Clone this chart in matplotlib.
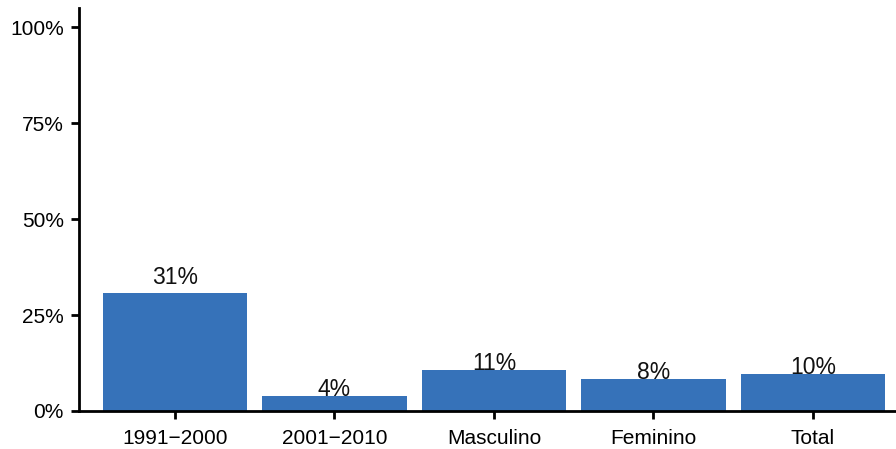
import matplotlib
matplotlib.use("Agg")
import matplotlib.pyplot as plt
from matplotlib.ticker import FuncFormatter

categories = ["1991\u22122000", "2001\u22122010", "Masculino", "Feminino", "Total"]
values = [30.7, 3.9, 10.7, 8.3, 9.6]
labels = ["31%", "4%", "11%", "8%", "10%"]
yticks = [0, 25, 50, 75, 100]

plt.rcParams['font.family'] = ['Liberation Sans', 'DejaVu Sans']

fig = plt.figure(figsize=(8.96, 4.49), dpi=100)
ax = fig.add_axes([79/896, 1-411/449, 1-79/896, (411-8)/449])

x = list(range(len(categories)))
ax.bar(x, values, width=0.905, color="#3672b9")
for xi, v, lab in zip(x, values, labels):
    off = 2.3 if v > 20 else 0.0
    ax.text(xi, v + off, lab, ha="center", va="baseline", fontsize=16.5, color="#111111")

ax.set_xlim(-0.6, 4.52)
ax.set_ylim(0, 105)
ax.set_xticks(x)
ax.set_xticklabels(categories)
ax.set_yticks(yticks)
ax.yaxis.set_major_formatter(FuncFormatter(lambda v, p: f"{int(v)}%"))
for s in ["top", "right"]:
    ax.spines[s].set_visible(False)
for s in ["left", "bottom"]:
    ax.spines[s].set_linewidth(2)
ax.tick_params(axis="both", length=6, width=2, labelsize=15, colors="black")
ax.tick_params(axis="x", pad=7)
ax.tick_params(axis="y", pad=5)

fig.savefig("out.png", dpi=100)
